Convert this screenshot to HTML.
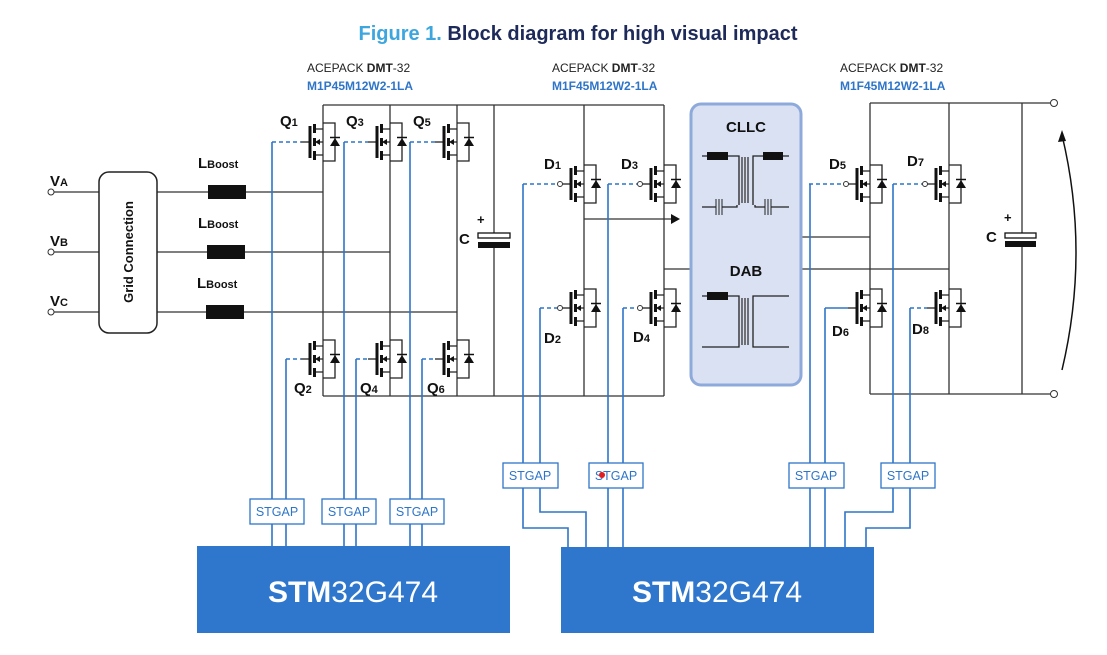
<!DOCTYPE html>
<html><head><meta charset="utf-8"><style>
html,body{margin:0;padding:0;background:#fff;}
svg{display:block;font-family:"Liberation Sans",Arial,sans-serif;}
</style></head><body>
<svg width="1107" height="655" viewBox="0 0 1107 655" xmlns="http://www.w3.org/2000/svg">
<defs>
<g id="m">
 <line x1="-22" y1="0" x2="-13" y2="0" stroke="#222" stroke-width="1.3"/>
 <rect x="-14.5" y="-16" width="3" height="32" fill="#111"/>
 <rect x="-10" y="-18" width="3" height="9" fill="#111"/>
 <rect x="-10" y="-4" width="3" height="8" fill="#111"/>
 <rect x="-10" y="9" width="3" height="9" fill="#111"/>
 <path d="M-7,-13H0M-7,13H0M-4,0H0M0,-19H12V19H0" fill="none" stroke="#222" stroke-width="1.3"/>
 <polygon points="-8,0 -3,-3 -3,3" fill="#111"/>
 <polygon points="7,4 17,4 12,-4" fill="#111"/>
 <line x1="7" y1="-4.5" x2="17" y2="-4.5" stroke="#111" stroke-width="1.5"/>
</g>
</defs>

<!-- title -->
<text x="578" y="40" text-anchor="middle" font-size="20" font-weight="bold"><tspan fill="#3ea6df">Figure 1.</tspan><tspan fill="#1d2a5a"> Block diagram for high visual impact</tspan></text>
<g font-size="12">
<text x="307" y="72" fill="#222">ACEPACK <tspan font-weight="bold">DMT</tspan>-32</text>
<text x="307" y="90" fill="#2e75c8" font-weight="bold">M1P45M12W2-1LA</text>
<text x="552" y="72" fill="#222">ACEPACK <tspan font-weight="bold">DMT</tspan>-32</text>
<text x="552" y="90" fill="#2e75c8" font-weight="bold">M1F45M12W2-1LA</text>
<text x="840" y="72" fill="#222">ACEPACK <tspan font-weight="bold">DMT</tspan>-32</text>
<text x="840" y="90" fill="#2e75c8" font-weight="bold">M1F45M12W2-1LA</text>
</g>

<!-- black wiring -->
<g stroke="#333" stroke-width="1.3" fill="none">
 <path d="M54,192H323M54,252H390M54,312H457"/>
 <path d="M323,105H664M323,396H664"/>
 <path d="M323,105V396M390,105V396M457,105V396M584,105V396M664,105V396"/>
 <path d="M494,105V233M494,248V396"/>
 <path d="M584,219H672M664,269H691"/>
 <path d="M800,237H870M800,269H949"/>
 <path d="M870,103H1051M870,394H1051M870,103V394M949,103V394M1022,103V233M1022,243V394"/>
 <path d="M1062,135Q1090,252 1062,370" stroke="#111" stroke-width="1.5"/>
</g>
<polygon points="680,219 671,214 671,224" fill="#111"/>
<polygon points="1062,130 1058,142 1066,141" fill="#111"/>
<circle cx="51" cy="192" r="3" fill="#fff" stroke="#333"/>
<circle cx="51" cy="252" r="3" fill="#fff" stroke="#333"/>
<circle cx="51" cy="312" r="3" fill="#fff" stroke="#333"/>
<circle cx="1054" cy="103" r="3.5" fill="#fff" stroke="#333"/>
<circle cx="1054" cy="394" r="3.5" fill="#fff" stroke="#333"/>

<!-- grid box -->
<rect x="99" y="172" width="58" height="161" rx="10" fill="#fff" stroke="#222" stroke-width="1.5"/>
<text transform="translate(133,252) rotate(-90)" text-anchor="middle" font-size="13" font-weight="bold" fill="#111">Grid Connection</text>
<g fill="#111">
<rect x="208" y="185" width="38" height="14"/><rect x="207" y="245" width="38" height="14"/><rect x="206" y="305" width="38" height="14"/>
</g>
<g font-weight="bold" fill="#111">
<text x="50" y="186" font-size="15">V<tspan font-size="11">A</tspan></text>
<text x="50" y="246" font-size="15">V<tspan font-size="11">B</tspan></text>
<text x="50" y="306" font-size="15">V<tspan font-size="11">C</tspan></text>
<text x="198" y="168" font-size="15">L<tspan font-size="11">Boost</tspan></text>
<text x="198" y="228" font-size="15">L<tspan font-size="11">Boost</tspan></text>
<text x="197" y="288" font-size="15">L<tspan font-size="11">Boost</tspan></text>
</g>

<!-- caps -->
<rect x="478" y="233" width="32" height="5" fill="#fff" stroke="#111" stroke-width="1.3"/>
<rect x="478" y="242" width="32" height="6" fill="#111"/>
<rect x="1005" y="233" width="31" height="5" fill="#fff" stroke="#111" stroke-width="1.3"/>
<rect x="1005" y="241" width="31" height="6" fill="#111"/>
<g font-weight="bold" fill="#111" font-size="15">
<text x="477" y="224" font-size="13">+</text><text x="459" y="244">C</text>
<text x="1004" y="222" font-size="13">+</text><text x="986" y="242">C</text>
</g>

<!-- DC-DC box -->
<rect x="691" y="104" width="110" height="281" rx="10" fill="#d9e1f2" stroke="#8eaadb" stroke-width="3"/>
<text x="746" y="132" text-anchor="middle" font-size="15" font-weight="bold" fill="#111">CLLC</text>
<text x="746" y="276" text-anchor="middle" font-size="15" font-weight="bold" fill="#111">DAB</text>
<g stroke="#222" stroke-width="1.3" fill="none">
 <path d="M702,156H739V205M753,205V156H789"/>
 <path d="M702,207H716M722,207H737V205M755,205V207H765M771,207H789"/>
 <path d="M716,199V215M719,199V215M722,199V215M765,199V215M768,199V215M771,199V215" stroke-width="1"/>
 <path d="M742,157V203M745,157V203M748,157V203" stroke="#555" stroke-width="1.6"/>
 <path d="M702,296H739V347H702M789,296H753V347H789"/>
 <path d="M742,298V345M745,298V345M748,298V345" stroke="#555" stroke-width="1.6"/>
</g>
<rect x="707" y="152" width="21" height="8" fill="#111"/><rect x="763" y="152" width="20" height="8" fill="#111"/>
<rect x="707" y="292" width="21" height="8" fill="#111"/>

<!-- mosfets -->
<use href="#m" x="323" y="142"/><use href="#m" x="390" y="142"/><use href="#m" x="457" y="142"/>
<use href="#m" x="323" y="359"/><use href="#m" x="390" y="359"/><use href="#m" x="457" y="359"/>
<use href="#m" x="584" y="184"/><use href="#m" x="664" y="184"/>
<use href="#m" x="584" y="308"/><use href="#m" x="664" y="308"/>
<use href="#m" x="870" y="184"/><use href="#m" x="949" y="184"/>
<use href="#m" x="870" y="308"/><use href="#m" x="949" y="308"/>
<g fill="#fff" stroke="#333" stroke-width="1">
<circle cx="560" cy="184" r="2.5"/><circle cx="640" cy="184" r="2.5"/>
<circle cx="560" cy="308" r="2.5"/><circle cx="640" cy="308" r="2.5"/>
<circle cx="846" cy="184" r="2.5"/><circle cx="925" cy="184" r="2.5"/>
</g>

<g font-weight="bold" fill="#111" font-size="15">
<text x="280" y="126">Q<tspan font-size="11">1</tspan></text>
<text x="346" y="126">Q<tspan font-size="11">3</tspan></text>
<text x="413" y="126">Q<tspan font-size="11">5</tspan></text>
<text x="294" y="393">Q<tspan font-size="11">2</tspan></text>
<text x="360" y="393">Q<tspan font-size="11">4</tspan></text>
<text x="427" y="393">Q<tspan font-size="11">6</tspan></text>
<text x="544" y="169">D<tspan font-size="11">1</tspan></text>
<text x="621" y="169">D<tspan font-size="11">3</tspan></text>
<text x="544" y="343">D<tspan font-size="11">2</tspan></text>
<text x="633" y="342">D<tspan font-size="11">4</tspan></text>
<text x="829" y="169">D<tspan font-size="11">5</tspan></text>
<text x="907" y="166">D<tspan font-size="11">7</tspan></text>
<text x="832" y="336">D<tspan font-size="11">6</tspan></text>
<text x="912" y="334">D<tspan font-size="11">8</tspan></text>
</g>

<!-- blue gate wiring -->
<g stroke="#2e75c8" stroke-width="1.6" fill="none">
 <g stroke-dasharray="4,3">
  <path d="M272,142H301M344,142H368M410,142H435M286,359H301M356,359H368M422,359H435"/>
  <path d="M523,184H557M608,184H637M540,308H557M623,308H637M809,184H843M893,184H922M910,308H927"/>
 </g>
 <path d="M825,308H848"/>
 <path d="M272,142V546M286,359V546M344,142V546M356,359V546M410,142V546M422,359V546"/>
 <path d="M523,184V528H568V547M540,308V512H586V547M608,184V547M623,308V547"/>
 <path d="M810,184V547M825,308V547M893,184V512H845V547M910,308V528H866V547"/>
</g>

<!-- STGAP boxes -->
<g fill="#fff" stroke="#2e75c8" stroke-width="1.3">
<rect x="250" y="499" width="54" height="25"/><rect x="322" y="499" width="54" height="25"/><rect x="390" y="499" width="54" height="25"/>
<rect x="503" y="463" width="55" height="25"/><rect x="589" y="463" width="54" height="25"/>
<rect x="789" y="463" width="55" height="25"/><rect x="881" y="463" width="54" height="25"/>
</g>
<g fill="#2e75c8" font-size="12.5" text-anchor="middle">
<text x="277" y="516">STGAP</text><text x="349" y="516">STGAP</text><text x="417" y="516">STGAP</text>
<text x="530" y="480">STGAP</text><text x="616" y="480">STGAP</text>
<text x="816" y="480">STGAP</text><text x="908" y="480">STGAP</text>
</g>
<circle cx="602" cy="475" r="3" fill="#e02020"/>

<!-- MCUs -->
<rect x="197" y="546" width="313" height="87" fill="#2f77cc"/>
<rect x="561" y="547" width="313" height="86" fill="#2f77cc"/>
<g fill="#fff" font-size="30" text-anchor="middle">
<text x="353" y="602"><tspan font-weight="bold">STM</tspan>32G474</text>
<text x="717" y="602"><tspan font-weight="bold">STM</tspan>32G474</text>
</g>
</svg>
</body></html>
